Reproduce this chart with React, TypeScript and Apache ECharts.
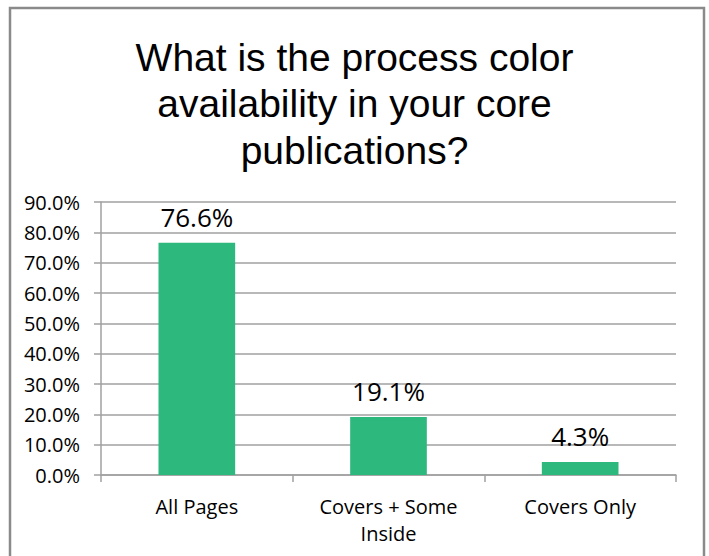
import React, { useEffect, useRef } from "react";
import * as echarts from "echarts";

const categories = ["All Pages", "Covers + Some\nInside", "Covers Only"];
const values = [76.6, 19.1, 4.3];
const titleLines = ["What is the process color", "availability in your core", "publications?"];

export default function App() {
  const ref = useRef<HTMLDivElement>(null);
  useEffect(() => {
    const chart = echarts.init(ref.current!, null, { renderer: "svg" });
    chart.setOption({
      animation: false,
      backgroundColor: "#ffffff",
      title: {
        text: titleLines.join("\n"),
        left: "center",
        top: 29,
        textStyle: {
          fontFamily: "Liberation Sans, Arial, sans-serif",
          fontSize: 39,
          fontWeight: "normal",
          color: "#000",
          lineHeight: 46.5,
        },
      },
      graphic: [
        {
          type: "rect",
          shape: { x: 10, y: 8, width: 694, height: 570 },
          style: { fill: "none", stroke: "#8a8a8a", lineWidth: 2.5 },
          z: 100,
        },
      ],
      grid: { left: 101, right: 33, top: 202, bottom: 81 },
      xAxis: {
        type: "category",
        data: categories,
        axisLine: { lineStyle: { color: "#a0a0a0", width: 1.5 } },
        axisTick: { show: true, length: 7, lineStyle: { color: "#a0a0a0", width: 1.5 } },
        axisLabel: {
          color: "#000",
          fontFamily: "Open Sans, Noto Sans, sans-serif",
          fontSize: 20,
          margin: 18,
          lineHeight: 27,
          interval: 0,
        },
      },
      yAxis: {
        type: "value",
        min: 0,
        max: 90,
        interval: 10,
        axisLine: { show: true, lineStyle: { color: "#a0a0a0", width: 1.5 } },
        axisTick: { show: true, length: 7, lineStyle: { color: "#a0a0a0", width: 1.5 } },
        splitLine: { lineStyle: { color: "#a0a0a0", width: 1.5 } },
        axisLabel: {
          color: "#000",
          fontFamily: "Open Sans, Noto Sans, sans-serif",
          fontSize: 20,
          margin: 21,
          formatter: (v: number) => v.toFixed(1) + "%",
        },
      },
      series: [
        {
          type: "bar",
          data: values,
          barWidth: "40%",
          itemStyle: { color: "#2db87d" },
          label: {
            show: true,
            position: "top",
            distance: 13,
            color: "#000",
            fontFamily: "Open Sans, Noto Sans, sans-serif",
            fontSize: 26,
            formatter: (p: any) => p.value.toFixed(1) + "%",
          },
        },
      ],
    });
    return () => chart.dispose();
  }, []);
  return (
    <div
      ref={ref}
      style={{ position: "fixed", left: 0, top: 0, width: 709, height: 556 }}
    />
  );
}
